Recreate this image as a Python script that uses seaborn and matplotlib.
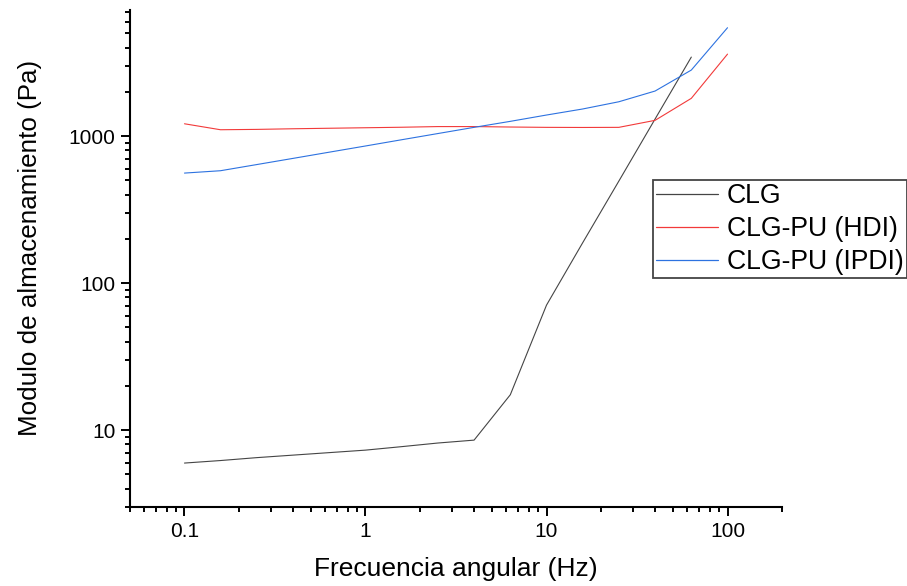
import numpy as np
import pandas as pd
import matplotlib
matplotlib.use("Agg")
import matplotlib.pyplot as plt
import matplotlib.ticker as mticker
from matplotlib.lines import Line2D
import seaborn as sns

# Data
freq = [0.1, 0.158, 0.251, 0.398, 0.631, 1.0, 1.585, 2.51, 3.98, 6.31, 10.0, 15.8, 25.1, 39.8, 63.1, 100.0]
clg = [5.97, 6.21, 6.5, 6.76, 7.03, 7.31, 7.72, 8.17, 8.55, 17.4, 70.8, 187, 494, 1306, 3444, None]
hdi = [1212, 1104, 1110, 1121, 1130, 1139, 1148, 1160, 1160, 1152, 1146, 1144, 1146, 1279, 1805, 3608]
ipdi = [560, 581, 640, 705, 777, 856, 944, 1040, 1146, 1259, 1390, 1527, 1711, 2024, 2811, 5455]
series_names = ["CLG", "CLG-PU (HDI)", "CLG-PU (IPDI)"]
colors = ["#454545", "#f23a3a", "#2d72e0"]
xticks = [0.1, 1, 10, 100]
yticks = [10, 100, 1000]

rows = []
for name, vals in zip(series_names, [clg, hdi, ipdi]):
    for f, v in zip(freq, vals):
        if v is not None:
            rows.append({"freq": f, "G": v, "Muestra": name})
df = pd.DataFrame(rows)

sns.set_style("ticks")
plt.rcParams["font.family"] = ["Liberation Sans", "DejaVu Sans"]
plt.rcParams["text.color"] = "black"
plt.rcParams["axes.labelcolor"] = "black"
plt.rcParams["xtick.color"] = "black"
plt.rcParams["ytick.color"] = "black"

fig = plt.figure(figsize=(9.07, 5.86), dpi=100)
ax = fig.add_axes([130/907, 1-507/586, (782-130)/907, (507-10)/586])

sns.lineplot(data=df, x="freq", y="G", hue="Muestra", hue_order=series_names,
             palette=colors, linewidth=0.8, ax=ax, legend=False, sort=False,
             estimator=None)

ax.set_xscale("log")
ax.set_yscale("log")
ax.set_xlim(0.05, 200)
ax.set_ylim(3.0, 7200)

ax.xaxis.set_major_locator(mticker.FixedLocator(xticks))
ax.yaxis.set_major_locator(mticker.FixedLocator(yticks))
fmt = mticker.FuncFormatter(lambda v, p: "{:g}".format(v))
ax.xaxis.set_major_formatter(fmt)
ax.yaxis.set_major_formatter(fmt)
ax.xaxis.set_minor_locator(mticker.LogLocator(base=10, subs=np.arange(2, 10)))
ax.yaxis.set_minor_locator(mticker.LogLocator(base=10, subs=np.arange(2, 10)))
ax.xaxis.set_minor_formatter(mticker.NullFormatter())
ax.yaxis.set_minor_formatter(mticker.NullFormatter())

for s in ["top", "right"]:
    ax.spines[s].set_visible(False)
for s in ["left", "bottom"]:
    ax.spines[s].set_linewidth(1.5)
    ax.spines[s].set_color("black")

ax.tick_params(which="major", direction="out", length=6.5, width=1.4,
               labelsize=15, pad=4, colors="black")
ax.tick_params(which="minor", direction="out", length=3.8, width=1.4, colors="black")

ax.set_xlabel("Frecuencia angular (Hz)", fontsize=19)
ax.set_ylabel("Modulo de almacenamiento (Pa)", fontsize=18.7)
ax.xaxis.set_label_coords(0.5, -0.1006)
ax.yaxis.set_label_coords(-0.135, 0.522)

handles = [Line2D([], [], color=c, linewidth=0.9) for c in colors]
leg = fig.legend(handles, series_names, loc="upper left",
                 bbox_to_anchor=(653/907, 1-180/586), bbox_transform=fig.transFigure,
                 fontsize=19.2, frameon=True, fancybox=False, shadow=False,
                 borderpad=0.12, handlelength=2.3, handletextpad=0.34,
                 labelspacing=0.26, borderaxespad=0)
leg.get_frame().set_edgecolor("#444444")
leg.get_frame().set_linewidth(1.3)
leg.get_frame().set_alpha(1)

fig.savefig("out.png", dpi=100)
